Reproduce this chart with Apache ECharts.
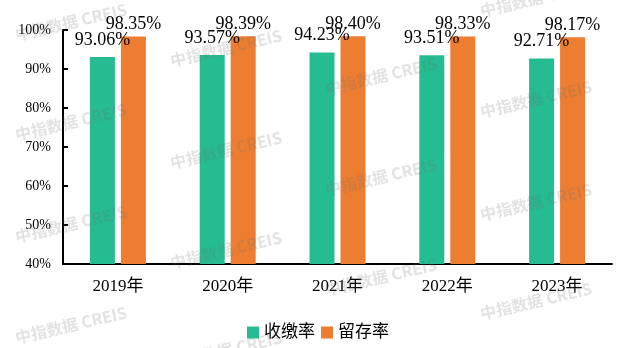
<!DOCTYPE html>
<html>
<head>
<meta charset="utf-8">
<script src="https://cdn.jsdelivr.net/npm/echarts@6/dist/echarts.min.js"></script>
<style>
  html, body { margin: 0; padding: 0; background: #fff; }
  #chart { width: 626px; height: 348px; }
</style>
</head>
<body>
<div id="chart"></div>
<script>
// Collection and retention rates by year (%)
const years = ['2019年', '2020年', '2021年', '2022年', '2023年'];
const collectionRate = [93.06, 93.57, 94.23, 93.51, 92.71];
const retentionRate = [98.35, 98.39, 98.40, 98.33, 98.17];
const seriesNames = ['收缴率', '留存率'];
const yTicks = { min: 40, max: 100, interval: 10 };

const FONT = '"Liberation Serif", "Noto Sans CJK SC", serif';

// Repeated brand watermark, anchor points of each stamp
const stampPoints = [
  [71, 22], [71, 122], [71, 224], [71, 325],
  [226, 48], [226, 150], [226, 250], [226, 350],
  [381, 76], [381, 177], [381, 277],
  [536, -2], [536, 99], [536, 202], [536, 301]
];
const stamps = stampPoints.map(([x, y]) => ({
  type: 'text',
  x: x,
  y: y,
  rotation: 0.23,
  z: 100,
  silent: true,
  style: {
    text: '中指数据 CREIS',
    fill: 'rgba(110,110,110,0.2)',
    fontSize: 16,
    fontWeight: 'bold',
    fontFamily: '"Noto Sans CJK SC", "Noto Sans", sans-serif',
    align: 'center',
    verticalAlign: 'middle'
  }
}));

const chart = echarts.init(document.getElementById('chart'), null, { renderer: 'canvas' });
chart.setOption({
  animation: false,
  backgroundColor: '#ffffff',
  grid: { left: 63, right: 14, top: 30, bottom: 84, containLabel: false },
  legend: {
    data: seriesNames,
    left: 242,
    top: 319,
    itemWidth: 12,
    itemHeight: 12,
    itemGap: 6,
    icon: 'rect',
    textStyle: { fontFamily: FONT, fontSize: 17, color: '#000' }
  },
  xAxis: {
    type: 'category',
    data: years,
    axisLine: { lineStyle: { color: '#000', width: 2 } },
    axisTick: { inside: true, length: 6, lineStyle: { color: '#000', width: 2 } },
    axisLabel: { fontFamily: FONT, fontSize: 17, color: '#000', margin: 14 },
    splitLine: { show: false }
  },
  yAxis: {
    type: 'value',
    min: yTicks.min,
    max: yTicks.max,
    interval: yTicks.interval,
    axisLine: { show: true, lineStyle: { color: '#000', width: 2 } },
    axisTick: { show: true, inside: true, length: 5, lineStyle: { color: '#000', width: 2 } },
    axisLabel: { fontFamily: FONT, fontSize: 14, color: '#000', margin: 12, formatter: '{value}%' },
    splitLine: { show: false }
  },
  series: [
    {
      name: seriesNames[0],
      type: 'bar',
      data: collectionRate,
      barWidth: 25,
      barGap: '24%',
      itemStyle: { color: '#25BC92' },
      label: {
        show: true,
        position: 'top',
        distance: 8,
        fontFamily: FONT,
        fontSize: 18,
        color: '#000',
        formatter: p => p.value.toFixed(2) + '%'
      }
    },
    {
      name: seriesNames[1],
      type: 'bar',
      data: retentionRate,
      barWidth: 25,
      itemStyle: { color: '#ED7D31' },
      label: {
        show: true,
        position: 'top',
        distance: 3,
        fontFamily: FONT,
        fontSize: 18,
        color: '#000',
        formatter: p => p.value.toFixed(2) + '%'
      }
    }
  ],
  graphic: stamps
});
</script>
</body>
</html>
